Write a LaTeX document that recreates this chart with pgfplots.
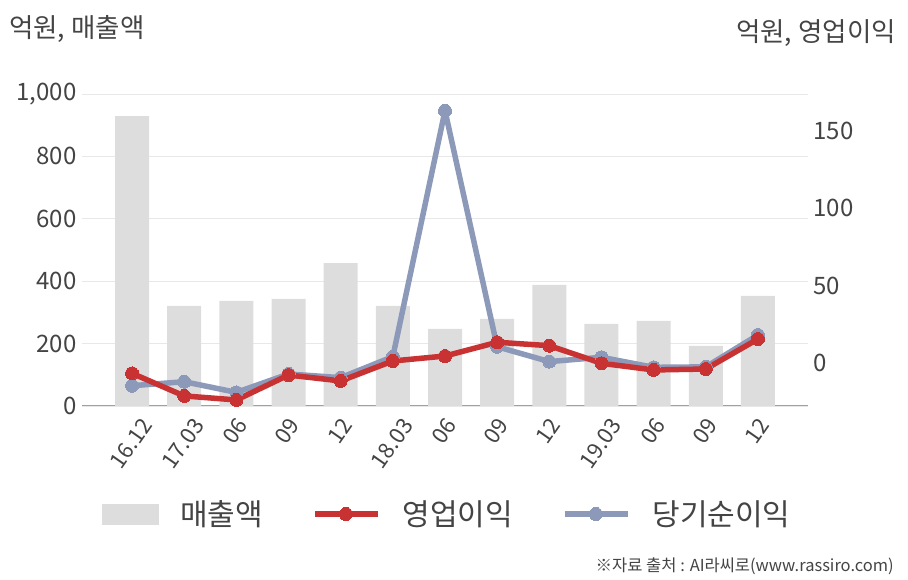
\documentclass[border=0pt]{standalone}
\usepackage{fontspec}
\setmainfont{Noto Sans CJK KR}
\usepackage{graphicx}
\usepackage{pgfplots}
\pgfplotsset{compat=1.18}
\definecolor{barc}{HTML}{DDDDDD}
\definecolor{redc}{HTML}{C83232}
\definecolor{bluec}{HTML}{8C99B8}
\definecolor{txt}{HTML}{444444}
\definecolor{gridc}{HTML}{E8E8E8}
\definecolor{axisc}{HTML}{A0A0A0}
\newcommand{\rl}[1]{\rotatebox{55}{#1}}
\pgfplotsset{linelegend/.style={legend image code/.code={\draw[##1, mark repeat=2, mark phase=2] plot coordinates {(0pt,0pt) (31pt,0pt) (63pt,0pt)};}},
  barlegend/.style={legend image code/.code={\fill[barc] (0pt,-10pt) rectangle (56pt,10pt);}}}
\begin{document}
\begin{tikzpicture}
\useasboundingbox (0pt,0pt) rectangle (908pt,580pt);
\node[anchor=west, text=txt, font=\fontsize{26.5}{26.5}\selectfont, inner sep=0] at (9pt,551pt) {억원, 매출액};
\node[anchor=east, text=txt, font=\fontsize{26.5}{26.5}\selectfont, inner sep=0] at (896pt,547pt) {억원, 영업이익};
\node[anchor=east, text=txt, font=\fontsize{16.5}{16.5}\selectfont, inner sep=0] at (894pt,14pt) {※자료 출처 : AI라씨로(www.rassiro.com)};
\begin{axis}[
  at={(82pt,174pt)}, anchor=south west, scale only axis,
  width=726pt, height=312pt,
  xmin=-0.96, xmax=12.96, ymin=0, ymax=1000,
  axis x line*=bottom, axis y line*=left,
  y axis line style={draw=none},
  x axis line style={draw=axisc, line width=1pt},
  major tick length=0pt,
  ytick={0,200,400,600,800,1000},
  ymajorgrids, grid style={gridc, line width=0.8pt},
  /pgf/number format/.cd, 1000 sep={,}, assume math mode=true, /pgfplots/.cd,
  yticklabel style={text=txt, font=\fontsize{24}{24}\selectfont, xshift=-2pt},
  xtick={0,...,12},
  xticklabels={\rl{16.12},\rl{17.03},\rl{06},\rl{09},\rl{12},\rl{18.03},\rl{06},\rl{09},\rl{12},\rl{19.03},\rl{06},\rl{09},\rl{12}},
  xticklabel style={text=txt, font=\fontsize{22}{22}\selectfont, anchor=north, inner sep=0pt, yshift=-10pt, xshift=-1pt},
  ]
\addplot[ybar, bar width=34pt, bar shift=0pt, fill=barc, draw=none] coordinates {
(0,929) (1,321) (2,337) (3,343) (4,458) (5,321) (6,247) (7,279) (8,388) (9,263) (10,273) (11,193) (12,353)};
\end{axis}
\begin{axis}[
  at={(82pt,174pt)}, anchor=south west, scale only axis,
  width=726pt, height=312pt,
  xmin=-0.96, xmax=12.96, ymin=-27.8, ymax=173.9,
  axis x line=none, axis y line*=right,
  y axis line style={draw=none},
  major tick length=0pt,
  ytick={0,50,100,150},
  /pgf/number format/.cd, assume math mode=true, /pgfplots/.cd,
  yticklabel style={text=txt, font=\fontsize{24}{24}\selectfont, xshift=2pt},
  legend columns=3,
  legend style={at={(0.0275,-0.346)}, anchor=west, draw=none, fill=none, inner sep=0pt, outer sep=0pt,
    font=\fontsize{30}{30}\selectfont, text=txt,
    /tikz/every odd column/.append style={column sep=20pt},
    /tikz/every even column/.append style={column sep=47pt}},
  ]
\addlegendimage{barlegend}
\addlegendentry{매출액}
\addplot[color=bluec, line width=5.5pt, line join=round, mark=*, mark size=6.5pt, mark options={fill=bluec, draw=bluec, line width=0pt},
  forget plot] coordinates {
(0,-14.7) (1,-12.1) (2,-19) (3,-7.1) (4,-9.5) (5,4.1) (6,163.1) (7,10.5) (8,0.9) (9,3.7) (10,-2.8) (11,-2.5) (12,18.1)};
\addplot[color=redc, line width=5.5pt, line join=round, mark=*, mark size=6.5pt, mark options={fill=redc, draw=redc, line width=0pt},
  linelegend] coordinates {
(0,-6.7) (1,-21.3) (2,-23.9) (3,-7.8) (4,-11.6) (5,1.3) (6,4.5) (7,13.4) (8,11.2) (9,-0.2) (10,-4.5) (11,-3.9) (12,15.5)};
\addlegendentry{영업이익}
\addlegendimage{color=bluec, line width=5.5pt, mark=*, mark size=6.5pt, mark options={fill=bluec, draw=bluec, line width=0pt},
  linelegend}
\addlegendentry{당기순이익}
\end{axis}
\end{tikzpicture}
\end{document}
